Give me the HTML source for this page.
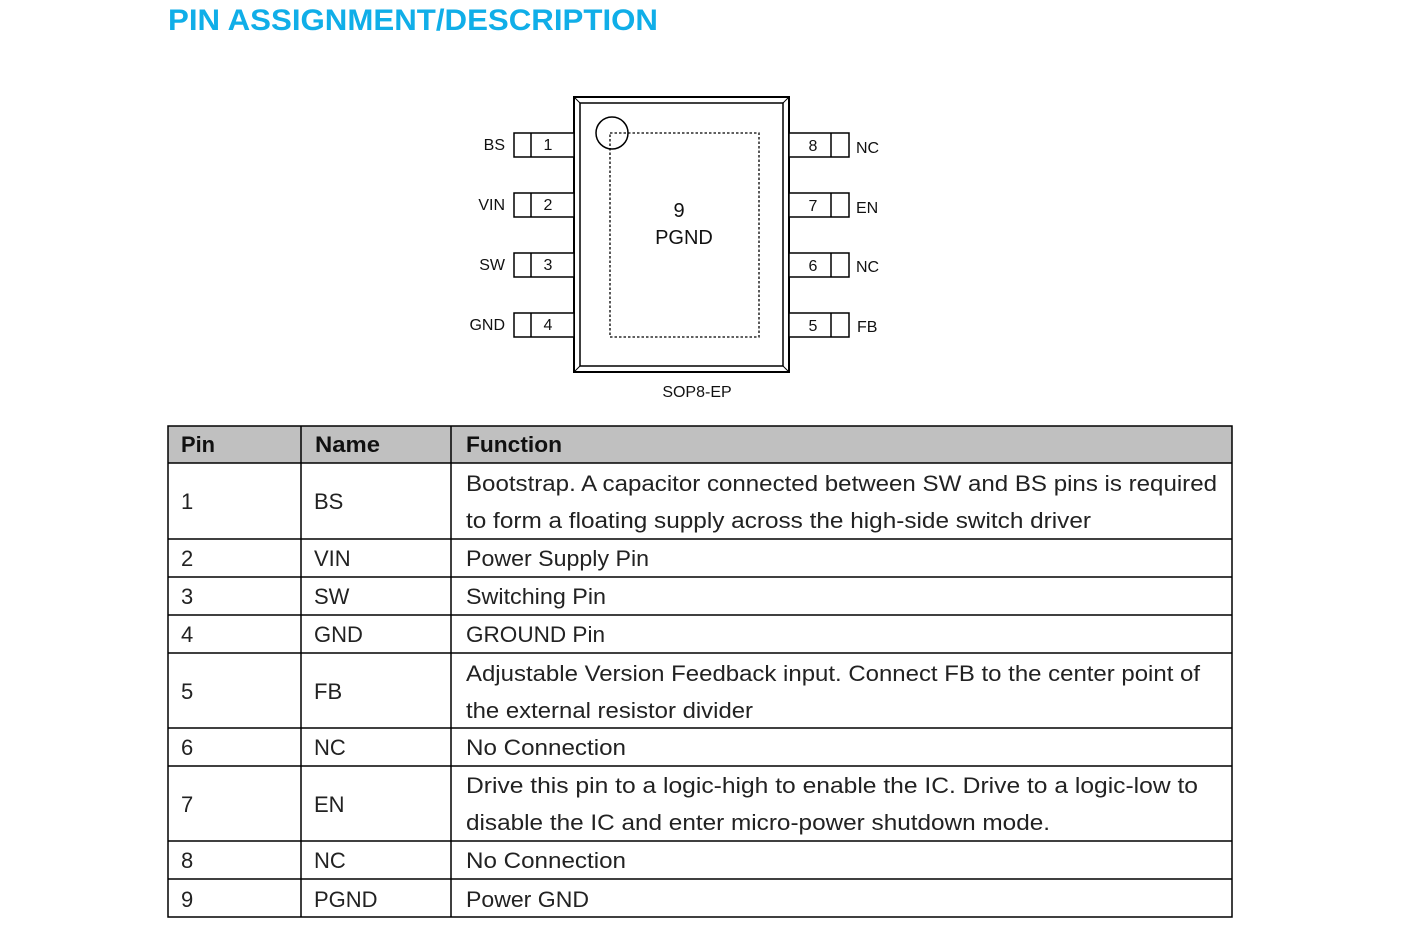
<!DOCTYPE html>
<html><head><meta charset="utf-8"><style>html,body{margin:0;padding:0;background:#fff}svg{display:block}</style></head>
<body>
<svg width="1408" height="926" viewBox="0 0 1408 926" xmlns="http://www.w3.org/2000/svg" font-family="Liberation Sans, sans-serif">
<text x="168" y="30" font-size="30" font-weight="bold" fill="#10aee8" textLength="490" lengthAdjust="spacingAndGlyphs">PIN ASSIGNMENT/DESCRIPTION</text>

<!-- chip -->
<g stroke="#000" fill="none" stroke-width="2">
<rect x="574" y="97" width="215" height="275"/>
<rect x="580" y="103" width="203" height="263" stroke-width="1.5"/>
<line x1="574" y1="97" x2="580" y2="103" stroke-width="1"/>
<line x1="789" y1="97" x2="783" y2="103" stroke-width="1"/>
<line x1="574" y1="372" x2="580" y2="366" stroke-width="1"/>
<line x1="789" y1="372" x2="783" y2="366" stroke-width="1"/>
<rect x="610" y="133" width="149" height="204" stroke-width="1.3" stroke-dasharray="2.5,2"/>
<circle cx="612" cy="133" r="16" stroke-width="1.5"/>
</g>
<g stroke="#000" fill="#fff" stroke-width="1.5">
<rect x="514" y="133" width="60" height="24"/><line x1="531" y1="133" x2="531" y2="157"/>
<rect x="514" y="193" width="60" height="24"/><line x1="531" y1="193" x2="531" y2="217"/>
<rect x="514" y="253" width="60" height="24"/><line x1="531" y1="253" x2="531" y2="277"/>
<rect x="514" y="313" width="60" height="24"/><line x1="531" y1="313" x2="531" y2="337"/>
<rect x="789" y="133" width="60" height="24"/><line x1="831" y1="133" x2="831" y2="157"/>
<rect x="789" y="193" width="60" height="24"/><line x1="831" y1="193" x2="831" y2="217"/>
<rect x="789" y="253" width="60" height="24"/><line x1="831" y1="253" x2="831" y2="277"/>
<rect x="789" y="313" width="60" height="24"/><line x1="831" y1="313" x2="831" y2="337"/>
</g>
<g font-size="16" fill="#111">
<text x="548" y="150" text-anchor="middle">1</text>
<text x="548" y="210" text-anchor="middle">2</text>
<text x="548" y="270" text-anchor="middle">3</text>
<text x="548" y="330" text-anchor="middle">4</text>
<text x="813" y="151" text-anchor="middle">8</text>
<text x="813" y="211" text-anchor="middle">7</text>
<text x="813" y="271" text-anchor="middle">6</text>
<text x="813" y="331" text-anchor="middle">5</text>
<text x="505" y="150" text-anchor="end">BS</text>
<text x="505" y="210" text-anchor="end">VIN</text>
<text x="505" y="270" text-anchor="end">SW</text>
<text x="505" y="330" text-anchor="end">GND</text>
<text x="856" y="153">NC</text>
<text x="856" y="213">EN</text>
<text x="856" y="272">NC</text>
<text x="857" y="332">FB</text>
<text x="697" y="397" text-anchor="middle">SOP8-EP</text>
<text x="679" y="217" text-anchor="middle" font-size="20">9</text>
<text x="684" y="244" text-anchor="middle" font-size="20">PGND</text>
</g>

<!-- table -->
<rect x="168" y="426" width="1064" height="37" fill="#c0c0c0"/>
<g stroke="#000" stroke-width="1.5" fill="none">
<rect x="168" y="426" width="1064" height="491"/>
<line x1="301" y1="426" x2="301" y2="917"/>
<line x1="451" y1="426" x2="451" y2="917"/>
<line x1="168" y1="463" x2="1232" y2="463"/>
<line x1="168" y1="539" x2="1232" y2="539"/>
<line x1="168" y1="577" x2="1232" y2="577"/>
<line x1="168" y1="615" x2="1232" y2="615"/>
<line x1="168" y1="653" x2="1232" y2="653"/>
<line x1="168" y1="728" x2="1232" y2="728"/>
<line x1="168" y1="766" x2="1232" y2="766"/>
<line x1="168" y1="841" x2="1232" y2="841"/>
<line x1="168" y1="879" x2="1232" y2="879"/>
</g>
<g font-size="22" font-weight="bold" fill="#111">
<text x="181" y="452" textLength="34" lengthAdjust="spacingAndGlyphs">Pin</text>
<text x="315" y="452" textLength="65" lengthAdjust="spacingAndGlyphs">Name</text>
<text x="466" y="452" textLength="96" lengthAdjust="spacingAndGlyphs">Function</text>
</g>
<g font-size="22" fill="#222">
<text x="181" y="509">1</text><text x="314" y="509">BS</text>
<text x="466" y="491" textLength="751" lengthAdjust="spacingAndGlyphs">Bootstrap. A capacitor connected between SW and BS pins is required</text>
<text x="466" y="528" textLength="625" lengthAdjust="spacingAndGlyphs">to form a floating supply across the high-side switch driver</text>
<text x="181" y="566">2</text><text x="314" y="566">VIN</text>
<text x="466" y="566" textLength="183" lengthAdjust="spacingAndGlyphs">Power Supply Pin</text>
<text x="181" y="604">3</text><text x="314" y="604">SW</text>
<text x="466" y="604" textLength="140" lengthAdjust="spacingAndGlyphs">Switching Pin</text>
<text x="181" y="642">4</text><text x="314" y="642">GND</text>
<text x="466" y="642" textLength="139" lengthAdjust="spacingAndGlyphs">GROUND Pin</text>
<text x="181" y="699">5</text><text x="314" y="699">FB</text>
<text x="466" y="681" textLength="734" lengthAdjust="spacingAndGlyphs">Adjustable Version Feedback input. Connect FB to the center point of</text>
<text x="466" y="718" textLength="287" lengthAdjust="spacingAndGlyphs">the external resistor divider</text>
<text x="181" y="755">6</text><text x="314" y="755">NC</text>
<text x="466" y="755" textLength="160" lengthAdjust="spacingAndGlyphs">No Connection</text>
<text x="181" y="812">7</text><text x="314" y="812">EN</text>
<text x="466" y="793" textLength="732" lengthAdjust="spacingAndGlyphs">Drive this pin to a logic-high to enable the IC. Drive to a logic-low to</text>
<text x="466" y="830" textLength="584" lengthAdjust="spacingAndGlyphs">disable the IC and enter micro-power shutdown mode.</text>
<text x="181" y="868">8</text><text x="314" y="868">NC</text>
<text x="466" y="868" textLength="160" lengthAdjust="spacingAndGlyphs">No Connection</text>
<text x="181" y="907">9</text><text x="314" y="907">PGND</text>
<text x="466" y="907" textLength="123" lengthAdjust="spacingAndGlyphs">Power GND</text>
</g>
</svg>
</body></html>
